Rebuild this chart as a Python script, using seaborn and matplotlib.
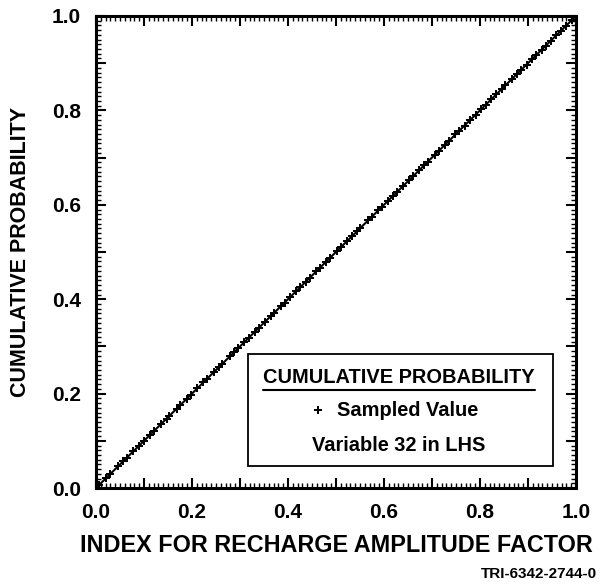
import matplotlib
matplotlib.use("Agg")
import matplotlib.pyplot as plt
import seaborn as sns
import pandas as pd
from matplotlib.ticker import MultipleLocator, FuncFormatter
from matplotlib.patches import Rectangle
from matplotlib.lines import Line2D

# ---- data ----
sampled_values = [0.007, 0.021, 0.030, 0.046, 0.057, 0.064, 0.078, 0.089, 0.100, 0.113,
                  0.121, 0.136, 0.147, 0.152, 0.168, 0.176, 0.189, 0.197, 0.211, 0.224,
                  0.232, 0.245, 0.256, 0.263, 0.279, 0.288, 0.296, 0.309, 0.318, 0.331,
                  0.340, 0.352, 0.364, 0.371, 0.386, 0.393, 0.404, 0.417, 0.425, 0.437,
                  0.446, 0.459, 0.467, 0.479, 0.488, 0.502, 0.511, 0.523, 0.534, 0.544,
                  0.551, 0.567, 0.575, 0.588, 0.596, 0.608, 0.619, 0.627, 0.640, 0.652,
                  0.660, 0.673, 0.684, 0.691, 0.706, 0.714, 0.727, 0.735, 0.749, 0.757,
                  0.768, 0.779, 0.791, 0.803, 0.812, 0.824, 0.834, 0.845, 0.853, 0.866,
                  0.878, 0.885, 0.897, 0.908, 0.917, 0.929, 0.937, 0.948, 0.959, 0.968,
                  0.979, 0.991]
cumulative_probability = list(sampled_values)
line_x = [0.0] + sampled_values + [1.0]
line_y = [0.0] + cumulative_probability + [1.0]
x_label = "INDEX FOR RECHARGE AMPLITUDE FACTOR"
y_label = "CUMULATIVE PROBABILITY"
tick_labels = ["0.0", "0.2", "0.4", "0.6", "0.8", "1.0"]

sns.set_theme(style="ticks")
plt.rcParams["font.family"] = ["Liberation Sans", "DejaVu Sans"]
plt.rcParams["font.weight"] = "bold"
plt.rcParams["text.color"] = "black"
plt.rcParams["axes.labelcolor"] = "black"

fig = plt.figure(figsize=(6.16, 5.88), dpi=100)
ax = fig.add_axes([0.1558, 0.170, 0.7792, 0.8028])

df_line = pd.DataFrame({"x": line_x, "y": line_y})
df_pts = pd.DataFrame({"x": sampled_values, "y": cumulative_probability})
sns.lineplot(data=df_line, x="x", y="y", ax=ax, color="black", linewidth=1.5,
             sort=False, estimator=None)
sns.scatterplot(data=df_pts, x="x", y="y", ax=ax, marker="P", s=28, color="black",
                linewidth=0, zorder=3)

ax.set_xlim(0, 1)
ax.set_ylim(0, 1)
ax.set_xlabel(x_label, fontsize=16.8, fontweight="bold")
ax.set_ylabel(y_label, fontsize=15.5, fontweight="bold")
ax.xaxis.label.set_va("center")
ax.yaxis.label.set_va("center")
ax.xaxis.set_label_coords(0.5, (488 - 545) / 472)
ax.yaxis.set_label_coords((21 - 96) / 480, 0.5)

for a in (ax.xaxis, ax.yaxis):
    a.set_major_locator(MultipleLocator(0.1))
    a.set_minor_locator(MultipleLocator(0.01))
fmt = FuncFormatter(lambda v, p: tick_labels[int(round(v * 5))] if abs(v * 10 - round(v * 10)) < 1e-6 and int(round(v * 10)) % 2 == 0 else "")
ax.xaxis.set_major_formatter(fmt)
ax.yaxis.set_major_formatter(fmt)
ax.tick_params(which="both", direction="in", top=True, right=True, colors="black",
               labelsize=15)
ax.tick_params(which="major", length=7, width=1.5, pad=11)
ax.tick_params(which="minor", length=3.5, width=1.0)
for lab in ax.get_xticklabels() + ax.get_yticklabels():
    lab.set_fontweight("bold")
for s in ax.spines.values():
    s.set_linewidth(2.2)
    s.set_color("black")

# legend box
ax.add_patch(Rectangle((0.3167, 0.0466), 0.6353, 0.2374, transform=ax.transAxes,
                       facecolor="white", edgecolor="black", linewidth=1.3, zorder=4))
ax.text(0.631, (488 - 377) / 472, "CUMULATIVE PROBABILITY", transform=ax.transAxes,
        ha="center", va="center", fontsize=14.4, fontweight="bold", zorder=5)
ax.add_line(Line2D([0.348, 0.915], [0.2076, 0.2076], transform=ax.transAxes,
                   color="black", linewidth=1.5, zorder=5))
ax.plot([0.4625], [(488 - 410) / 472], transform=ax.transAxes, marker="P", markersize=6,
        color="black", markeredgewidth=0, zorder=5)
ax.text(0.502, (488 - 410) / 472, "Sampled Value", transform=ax.transAxes, ha="left",
        va="center", fontsize=14.4, fontweight="bold", zorder=5)
ax.text(0.631, (488 - 445) / 472, "Variable 32 in LHS", transform=ax.transAxes,
        ha="center", va="center", fontsize=14.4, fontweight="bold", zorder=5)

fig.text(597 / 616, 1 - 574 / 588, "TRI-6342-2744-0", ha="right", va="center",
         fontsize=11, fontweight="bold")

fig.savefig("out.png", dpi=100, facecolor="white")
